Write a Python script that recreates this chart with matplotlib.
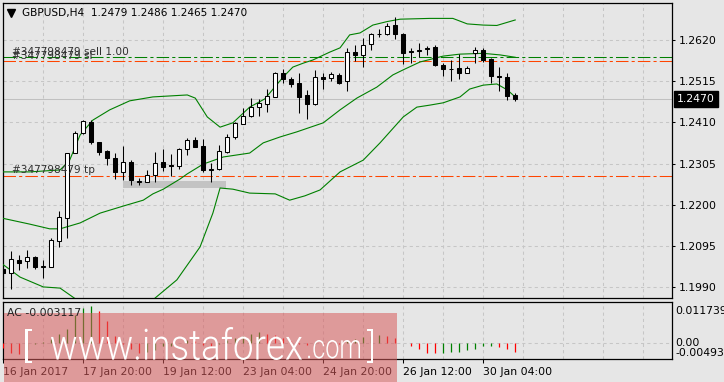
import numpy as np
import matplotlib
matplotlib.use('Agg')
import matplotlib.pyplot as plt
import matplotlib.transforms as mtransforms
from matplotlib.patches import Rectangle, PathPatch
from matplotlib.textpath import TextPath
from matplotlib.font_manager import FontProperties, fontManager
from matplotlib.ticker import FormatStrFormatter

# GBPUSD H4 candles (oldest first)
opens = [1.2037, 1.2026, 1.2060, 1.2056, 1.2066, 1.2043, 1.2043, 1.2109, 1.2166, 1.2333,
         1.2382, 1.2412, 1.2359, 1.2337, 1.2319, 1.2283, 1.2309, 1.2259, 1.2258, 1.2275,
         1.2309, 1.2302, 1.2300, 1.2342, 1.2365, 1.2350, 1.2289, 1.2292, 1.2335, 1.2374,
         1.2407, 1.2426, 1.2450, 1.2458, 1.2476, 1.2535, 1.2521, 1.2510, 1.2479, 1.2457,
         1.2527, 1.2522, 1.2531, 1.2515, 1.2589, 1.2582, 1.2609, 1.2635, 1.2635, 1.2658,
         1.2635, 1.2592, 1.2593, 1.2600, 1.2603, 1.2556, 1.2547, 1.2548, 1.2537, 1.2588,
         1.2595, 1.2571, 1.2528, 1.2525, 1.2479]
highs = [1.2042, 1.2083, 1.2072, 1.2085, 1.2070, 1.2060, 1.2115, 1.2185, 1.2333, 1.2387,
         1.2416, 1.2416, 1.2360, 1.2340, 1.2333, 1.2350, 1.2314, 1.2268, 1.2289, 1.2335,
         1.2343, 1.2330, 1.2346, 1.2370, 1.2372, 1.2369, 1.2307, 1.2352, 1.2380, 1.2412,
         1.2446, 1.2471, 1.2469, 1.2494, 1.2539, 1.2545, 1.2527, 1.2537, 1.2493, 1.2544,
         1.2537, 1.2539, 1.2537, 1.2599, 1.2607, 1.2626, 1.2637, 1.2648, 1.2663, 1.2678,
         1.2639, 1.2599, 1.2612, 1.2605, 1.2607, 1.2561, 1.2569, 1.2584, 1.2554, 1.2603,
         1.2599, 1.2573, 1.2550, 1.2537, 1.2486]
lows = [1.2020, 1.1985, 1.2034, 1.2038, 1.2036, 1.2015, 1.2043, 1.2092, 1.2115, 1.2333,
        1.2380, 1.2354, 1.2327, 1.2302, 1.2266, 1.2263, 1.2251, 1.2251, 1.2258, 1.2258,
        1.2287, 1.2274, 1.2292, 1.2327, 1.2347, 1.2285, 1.2259, 1.2290, 1.2333, 1.2369,
        1.2405, 1.2423, 1.2426, 1.2437, 1.2474, 1.2511, 1.2501, 1.2435, 1.2418, 1.2455,
        1.2496, 1.2516, 1.2509, 1.2491, 1.2567, 1.2550, 1.2595, 1.2628, 1.2633, 1.2622,
        1.2559, 1.2562, 1.2577, 1.2582, 1.2554, 1.2528, 1.2516, 1.2521, 1.2535, 1.2561,
        1.2565, 1.2510, 1.2491, 1.2467, 1.2465]
closes = [1.2026, 1.2061, 1.2053, 1.2066, 1.2043, 1.2044, 1.2111, 1.2168, 1.2331, 1.2382,
          1.2414, 1.2361, 1.2334, 1.2319, 1.2283, 1.2309, 1.2263, 1.2260, 1.2275, 1.2306,
          1.2297, 1.2299, 1.2342, 1.2365, 1.2348, 1.2289, 1.2292, 1.2336, 1.2372, 1.2409,
          1.2426, 1.2449, 1.2459, 1.2477, 1.2535, 1.2520, 1.2509, 1.2476, 1.2458, 1.2527,
          1.2520, 1.2533, 1.2511, 1.2589, 1.2583, 1.2607, 1.2635, 1.2636, 1.2656, 1.2635,
          1.2588, 1.2589, 1.2595, 1.2597, 1.2556, 1.2547, 1.2546, 1.2537, 1.2548, 1.2594,
          1.2569, 1.2528, 1.2525, 1.2478, 1.2470]

# Bollinger bands (bar position, price)
upper_pos = [-0.4, 3.3, 7.1, 8.3, 9.6, 11.2, 13.3, 15.8, 18.7, 23.0, 24.0, 25.5, 27.1, 28.7,
             30.8, 32.7, 35.0, 36.2, 37.5, 38.7, 40.8, 42.1, 43.3, 44.6, 46.2, 48.0, 49.6,
             53.3, 56.2, 58.0, 60.0, 61.7, 64.0]
upper_val = [1.2284, 1.2284, 1.2289, 1.2314, 1.2378, 1.2416, 1.2442, 1.2465, 1.2475, 1.2480,
             1.2472, 1.2424, 1.2398, 1.2409, 1.2449, 1.2470, 1.2526, 1.2551, 1.2561, 1.2569,
             1.2589, 1.2600, 1.2633, 1.2638, 1.2658, 1.2667, 1.2673, 1.2675, 1.2675, 1.2661,
             1.2658, 1.2657, 1.2671]
middle_pos = [-0.1, 3.3, 5.8, 7.1, 9.6, 12.1, 15.0, 17.5, 18.7, 20.0, 22.1, 23.0, 25.0, 27.5,
              30.8, 32.5, 34.6, 36.7, 40.0, 42.1, 44.2, 46.7, 48.7, 50.0, 52.1, 55.0, 57.1,
              60.0, 62.1, 64.0]
middle_val = [1.2166, 1.2151, 1.2139, 1.2139, 1.2154, 1.2179, 1.2197, 1.2212, 1.2228, 1.2240,
              1.2266, 1.2279, 1.2304, 1.2322, 1.2332, 1.2358, 1.2373, 1.2386, 1.2409, 1.2442,
              1.2472, 1.2500, 1.2531, 1.2544, 1.2564, 1.2579, 1.2584, 1.2586, 1.2582, 1.2576]
lower_pos = [-0.1, 2.1, 5.0, 7.1, 9.2, 11.2, 13.3, 15.8, 17.7, 18.7, 21.7, 24.6, 26.2, 27.1,
             28.7, 30.8, 34.0, 35.8, 37.7, 39.6, 42.1, 45.0, 47.1, 50.0, 51.7, 53.3, 55.0,
             57.1, 58.3, 60.0, 61.7, 63.0, 64.0]
lower_val = [1.2049, 1.2016, 1.1991, 1.1988, 1.1958, 1.1935, 1.1927, 1.1937, 1.1950, 1.1958,
             1.2009, 1.2093, 1.2179, 1.2243, 1.2240, 1.2230, 1.2228, 1.2212, 1.2223, 1.2238,
             1.2284, 1.2314, 1.2358, 1.2424, 1.2449, 1.2454, 1.2460, 1.2475, 1.2495, 1.2505,
             1.2508, 1.2493, 1.2475]

# Accelerator oscillator
ac_values = [-0.0018, -0.0034, -0.0036, -0.0022, -0.0004, 0.0003, 0.0013, 0.0028, 0.0043, 0.0090,
             0.0110, 0.011739, 0.0101, 0.0069, 0.0020, -0.0005, -0.0020, -0.0034, -0.0030, -0.0022,
             -0.0012, -0.0010, -0.0002, 0.0008, 0.0005, -0.0008, -0.0012, -0.0005, 0.0010, 0.0015,
             0.0020, 0.0027, 0.0035, 0.0029, 0.0025, 0.0014, 0.0005, -0.0003, -0.0008, -0.0004,
             -0.0006, -0.0002, -0.0004, 0.0006, 0.0012, 0.0019, 0.0021, 0.0025, 0.0023, 0.0014,
             -0.0002, -0.0009, -0.0021, -0.0032, -0.0034, -0.0033, -0.0031, -0.0029, -0.0023, -0.0019,
             -0.0011, -0.0009, -0.0013, -0.0019, -0.003117]

price_ticks = [1.1990, 1.2095, 1.2200, 1.2305, 1.2410, 1.2515, 1.2620]
time_tick_pos = [0, 10, 20, 30, 40, 50, 60]
time_tick_labels = ['16 Jan 2017', '17 Jan 20:00', '19 Jan 12:00', '23 Jan 04:00',
                    '24 Jan 20:00', '26 Jan 12:00', '30 Jan 04:00']

order_id = '#347798479'
sell_price = 1.2576
sl_price = 1.2566
tp_price = 1.2274
last_price = 1.2470
ac_max, ac_min = 0.011739, -0.004933
zone_left, zone_right = 15.0, 27.9
zone_low, zone_high = 1.2244, 1.2261

BG = '#e6e6e6'
GREEN = '#008000'
ORANGE = '#ff4500'
GRIDC = '#c6c6c6'
W, H = 724, 382
FS = 7.8


def box(l, t, r, b):
    return [l / W, 1 - b / H, (r - l) / W, (b - t) / H]


def light_font():
    # a thin sans for the watermark, if one is installed
    for fam in ['Roboto', 'Open Sans', 'Lato', 'Inter', 'Noto Sans', 'DejaVu Sans']:
        for f in fontManager.ttflist:
            if f.name == fam and f.style == 'normal' and f.weight in (200, 300, 'light', 'extra-light'):
                return FontProperties(fname=f.fname)
    return FontProperties(family='DejaVu Sans')


def fit_text(fig, s, x0, x1, ytop, ybot, prop):
    # draw text s as a path squeezed into a pixel box (top-left origin)
    tp = TextPath((0, 0), s, size=100, prop=prop)
    bb = tp.get_extents()
    t = (mtransforms.Affine2D().translate(-bb.x0, -bb.y0)
         .scale((x1 - x0) / bb.width, (ybot - ytop) / bb.height)
         .translate(x0, H - ybot))
    fig.add_artist(PathPatch(tp, facecolor='white', edgecolor='none', transform=t, zorder=11))


fig = plt.figure(figsize=(W / 100, H / 100), dpi=100, facecolor=BG)
ax = fig.add_axes(box(2.5, 2.5, 672, 298), facecolor=BG)
ax2 = fig.add_axes(box(2.5, 302, 672, 359), facecolor=BG)

idx = np.arange(len(opens))
o = np.array(opens)
c = np.array(closes)
up = c >= o

# candles
ax.vlines(idx, lows, highs, color='black', lw=0.75, zorder=4)
ax.bar(idx, np.abs(c - o), bottom=np.minimum(o, c), width=0.55,
       color=np.where(up, 'white', 'black'), edgecolor='black', linewidth=0.75, zorder=5)

# bands
for xs, ys in [(upper_pos, upper_val), (middle_pos, middle_val), (lower_pos, lower_val)]:
    ax.plot(xs, ys, color=GREEN, lw=0.8, zorder=3)

# order lines
ax.axhline(sell_price, color=GREEN, lw=0.75, ls=(0, (12, 3, 3, 3)), zorder=2)
ax.axhline(sl_price, color=ORANGE, lw=0.75, ls=(0, (12, 3, 3, 3)), zorder=2)
ax.axhline(tp_price, color=ORANGE, lw=0.75, ls=(0, (12, 3, 3, 3)), zorder=2)
ax.axhline(last_price, color='#c0c0c0', lw=0.75, zorder=1)
ax.add_patch(Rectangle((zone_left, zone_low), zone_right - zone_left, zone_high - zone_low,
                       facecolor='#c3c3c3', edgecolor='none', zorder=2))

trans = mtransforms.blended_transform_factory(ax.transAxes, ax.transData)
txt_col = '#303030'
for price, label in [(sell_price, ' sell 1.00'), (sl_price, ' sl'), (tp_price, ' tp')]:
    ax.text(0.0138, price + 0.0001, order_id + label, transform=trans, fontsize=7.6,
            color=txt_col, va='bottom', zorder=6)

# title
ax.plot([0.0125], [0.966], marker='v', color='black', ms=5.5, transform=ax.transAxes, clip_on=False)
ax.text(0.0287, 0.966, 'GBPUSD,H4  %.4f %.4f %.4f %.4f' % (opens[-1], highs[-1], lows[-1], closes[-1]),
        transform=ax.transAxes, fontsize=7.6, va='center', color='black')

# current price label
ax.text(1.0075, last_price, '%.4f' % last_price, transform=trans, fontsize=FS, color='white',
        va='center', ha='left', bbox=dict(boxstyle='square,pad=0.3', fc='black', ec='black'),
        clip_on=False, zorder=7)

ax.set_xlim(-0.1, 83.6)
ax.set_ylim(1.19628, 1.27155)
ax.yaxis.tick_right()
ax.set_yticks(price_ticks)
ax.yaxis.set_major_formatter(FormatStrFormatter('%.4f'))
ax.tick_params(axis='y', length=2.5, width=0.75, pad=2.5, labelsize=FS, colors='black')
ax.set_xticks(np.arange(5, 84, 5))
ax.tick_params(axis='x', length=0, labelbottom=False)
ax.grid(True, color=GRIDC, lw=0.75, ls=(0, (3, 3)))
ax.set_axisbelow(True)
for s in ax.spines.values():
    s.set_color('black')
    s.set_linewidth(0.9)

# AC panel
ac_colors = [('#ff0000' if i == 0 or ac_values[i] < ac_values[i - 1] else GREEN)
             for i in range(len(ac_values))]
ax2.vlines(idx, 0, ac_values, colors=ac_colors, lw=0.9, zorder=3)
ax2.axhline(0, color=GRIDC, lw=0.75, ls=(0, (3, 3)), zorder=1)
ax2.set_xlim(-0.1, 83.6)
ax2.set_ylim(-0.005214, 0.01302)
ax2.set_yticks([])
ax2.set_xticks(time_tick_pos)
ax2.set_xticklabels(time_tick_labels, ha='left')
ax2.set_xticks(np.arange(5, 84, 5), minor=True)
ax2.tick_params(axis='x', which='major', length=3, width=0.75, pad=2.5, labelsize=FS, colors='black')
ax2.tick_params(axis='x', which='minor', length=0)
ax2.grid(True, axis='x', which='both', color=GRIDC, lw=0.75, ls=(0, (3, 3)))
ax2.set_axisbelow(True)
for s in ax2.spines.values():
    s.set_color('black')
    s.set_linewidth(0.9)

trans2 = mtransforms.blended_transform_factory(ax2.transAxes, ax2.transData)
ax2.text(1.0045, ac_max, '%.6f' % ac_max, transform=trans2, fontsize=FS, va='top', clip_on=False)
ax2.text(1.0045, 0, '0.00', transform=trans2, fontsize=FS, va='center', clip_on=False)
ax2.text(1.0045, ac_min, '%.6f' % ac_min, transform=trans2, fontsize=FS, va='bottom', clip_on=False)

# watermark
fig.add_artist(Rectangle((3.7 / W, 0), 393.3 / W, 69 / H, transform=fig.transFigure,
                         facecolor=(217 / 255, 92 / 255, 93 / 255), alpha=0.55,
                         edgecolor='none', zorder=10))
wm = light_font()
fit_text(fig, '[', 25.4, 32.3, 329, 362.7, wm)
fit_text(fig, 'www.instaforex', 51, 302, 327, 360, wm)
fit_text(fig, '.com', 308, 360, 340, 358.5, wm)
fit_text(fig, ']', 367, 373, 329, 362.7, wm)

fig.text(7.4 / W, 1 - 313.5 / H, 'AC %.6f' % ac_values[-1], fontsize=FS, color='#202020',
         va='center', ha='left', zorder=12)

fig.savefig('out.png', dpi=100, facecolor=BG)
